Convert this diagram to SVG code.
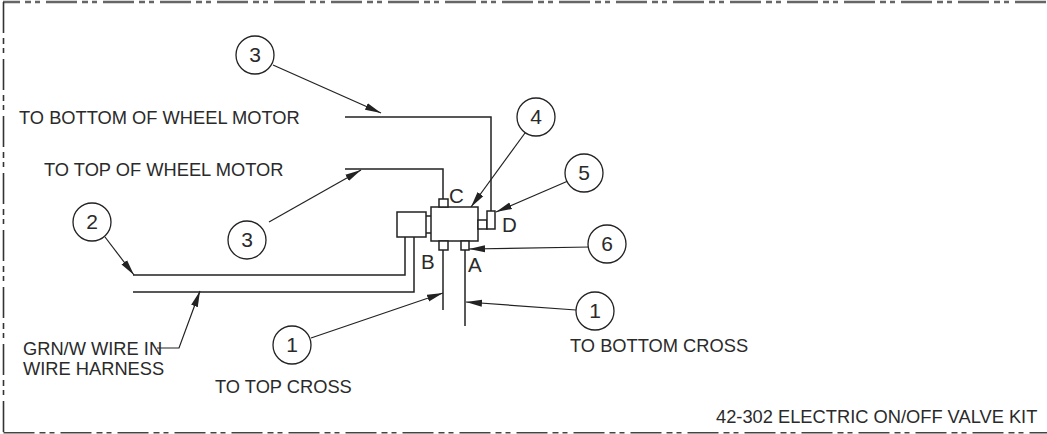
<svg xmlns="http://www.w3.org/2000/svg" width="1047" height="434" viewBox="0 0 1047 434">
<defs>
<style>
text{font-family:"Liberation Sans",Arial,sans-serif;font-size:18.3px;fill:#2a2a2a}
.num{font-size:21px;text-anchor:middle}
.k{font-size:20.5px}
.b{fill:none;stroke-dasharray:31 5 6 4 5 6}
.l{fill:none;stroke:#222;stroke-width:1.5}
.t{fill:none;stroke:#222;stroke-width:1.2}
.s{fill:#fff;stroke:#222;stroke-width:1.5}
.c{fill:#fff;stroke:#222;stroke-width:1.3}
</style>
<marker id="a" markerUnits="userSpaceOnUse" markerWidth="17" markerHeight="8" refX="16" refY="4" orient="auto"><path d="M0 .5L16 4L0 7.5z" fill="#222"/></marker>
</defs>
<rect width="1047" height="434" fill="#fff"/>
<g id="border">
<path class="b" stroke="#666" stroke-width="2.4" stroke-dashoffset="14" d="M3 2H1047"/>
<path class="b" stroke="#333" stroke-width="1.6" d="M3.5 2V433"/>
<path class="b" stroke="#444" stroke-width="1.6" d="M3.5 432.7H1047"/>
</g>
<g id="connectors">
<path class="l" d="M345 117H491V211"/>
<path class="l" d="M345 169H443V199"/>
<path class="l" stroke-width="2" d="M133 275H405V237"/>
<path class="l" d="M133 292H414V237"/>
<path class="l" d="M443 250V310"/>
<path class="l" d="M465 250V326"/>
<path class="t" d="M273 65L381 113" marker-end="url(#a)"/>
<path class="t" d="M269 222L361 170" marker-end="url(#a)"/>
<path class="t" d="M105 237L134 275" marker-end="url(#a)"/>
<path class="t" d="M157 348H179L200 291" marker-end="url(#a)"/>
<path class="t" d="M311 338L443 293" marker-end="url(#a)"/>
<path class="t" d="M576 310L466 302" marker-end="url(#a)"/>
<path class="t" d="M525 133L471 207" marker-end="url(#a)"/>
<path class="t" d="M568 181L496 212" marker-end="url(#a)"/>
<path class="t" d="M590 247L469 249" marker-end="url(#a)"/>
</g>
<g id="valve">
<rect class="s" x="431" y="207" width="47" height="34"/>
<rect class="s" x="397" y="212" width="29" height="25"/>
<path class="l" d="M426 216H431M426 233H431"/>
<rect class="s" x="439" y="199" width="9" height="8"/>
<rect class="s" x="439" y="241" width="9" height="9"/>
<rect class="s" x="461" y="241" width="8" height="9"/>
<rect class="s" x="478" y="220" width="9" height="9"/>
<rect class="s" x="487" y="211" width="8" height="18"/>
</g>
<g id="labels">
<text x="19" y="124">TO BOTTOM OF WHEEL MOTOR</text>
<text x="44" y="176">TO TOP OF WHEEL MOTOR</text>
<text x="23" y="355">GRN/W WIRE IN</text>
<text x="23" y="375">WIRE HARNESS</text>
<text x="215" y="393">TO TOP CROSS</text>
<text x="570" y="352">TO BOTTOM CROSS</text>
<text x="716" y="423">42-302 ELECTRIC ON/OFF VALVE KIT</text>
<text class="k" x="449" y="203">C</text>
<text class="k" x="502" y="232">D</text>
<text class="k" x="421" y="269">B</text>
<text class="k" x="468" y="272">A</text>
</g>
<g id="n3a"><circle class="c" cx="255" cy="55" r="19"/><text class="num" x="255" y="62">3</text></g>
<g id="n3b"><circle class="c" cx="247" cy="240" r="19"/><text class="num" x="247" y="247">3</text></g>
<g id="n2"><circle class="c" cx="92" cy="222" r="19"/><text class="num" x="92" y="229">2</text></g>
<g id="n1a"><circle class="c" cx="292" cy="345" r="19"/><text class="num" x="292" y="352">1</text></g>
<g id="n1b"><circle class="c" cx="595" cy="311" r="19"/><text class="num" x="595" y="318">1</text></g>
<g id="n4"><circle class="c" cx="536" cy="117" r="19"/><text class="num" x="536" y="124">4</text></g>
<g id="n5"><circle class="c" cx="584" cy="173" r="19"/><text class="num" x="584" y="180">5</text></g>
<g id="n6"><circle class="c" cx="607" cy="244" r="19"/><text class="num" x="607" y="251">6</text></g>
</svg>
